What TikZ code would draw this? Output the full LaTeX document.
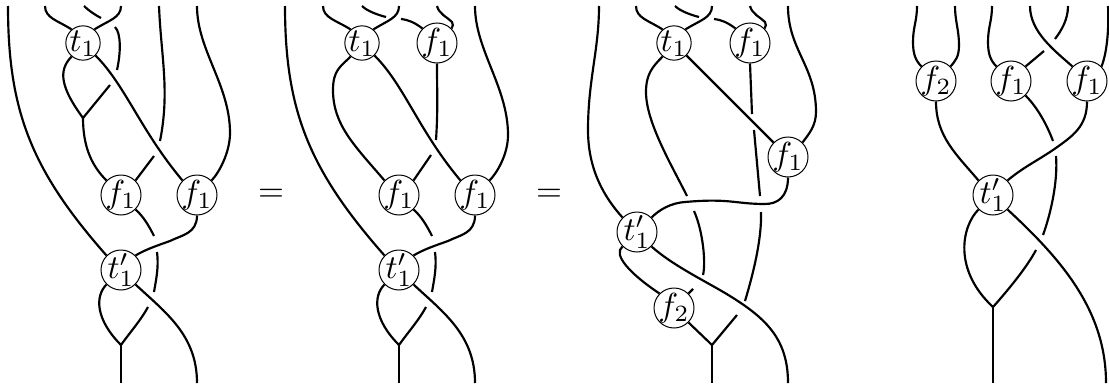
\documentclass[tikz,border=0pt]{standalone}
\usepackage{amsmath}
\newcommand{\vlab}[1]{\makebox[0pt]{\raisebox{-2.5pt}[0pt][0pt]{$#1$}}}

\begin{document}
\begin{tikzpicture}[x=0.3pt, y=-0.3pt,
vert/.style={circle, draw, inner sep=0pt, minimum size=12pt, line width=0.3pt},
vsmall/.style={vert, minimum size=10.3pt},
strand/.style={line width=0.65pt},
]
 \useasboundingbox (0,0) rectangle (1109,385);

 % first braid
 \node[vsmall] (ta) at (83,43) {\vlab{t_1}};
 \node[vert] (fa) at (121,195) {\vlab{f_1}};
 \node[vert] (ga) at (197,195) {\vlab{f_1}};
 \node[vert] (pa) at (121,270) {\vlab{t'_1}};
 \foreach \n/\x/\y in {a1/8/6, a2/45/6, a3/84/6, a4/121/6, a5/159/6, a6/197/6,
   a7/101/18, a8/115/27, a9/117/70, a10/110/85, ja/83/118, a11/160/141, a12/154/156,
   a13/154/236, a14/157/252, a15/154/292, a16/148/307, ka/121/345, a17/121/383, a18/197/383}
   \coordinate (\n) at (\x,\y);
 \begin{scope}[strand]
 \draw (a1) .. controls +(0,105) and +(-75,-85) .. (pa.135);
 \draw (a2) .. controls +(0,12) and +(-14,-9) .. (ta.130);
 \draw (a4) .. controls +(0,12) and +(14,-9) .. (ta.50);
 \draw (a3) .. controls +(4,4) and +(-6,-3) .. (a7);
 \draw (a8) .. controls +(6,6) and +(4,-18) .. (a9);
 \draw (a10) -- (ja);
 \draw (ta.-130) .. controls +(-14,14) and +(-22,-30) .. (ja);
 \draw (ja) .. controls +(0,30) and +(-14,-14) .. (fa.135);
 \draw (ta.-45) .. controls +(30,30) and +(-42,-50) .. (ga.135);
 \draw (a5) .. controls +(2,50) and +(10,-50) .. (a11);
 \draw (a12) -- (fa.45);
 \draw (a6) .. controls +(0,44) and +(0,-48) .. (230,133) .. controls +(0,20) and +(7,-7) .. (ga.45);
 \draw (fa.-45) .. controls +(8,7) and +(-5,-10) .. (a13);
 \draw (a14) .. controls +(2,15) and +(2,-12) .. (a15);
 \draw (a16) .. controls +(-7,13) and +(10,-14) .. (ka);
 \draw (ga.south) .. controls +(0,18) and +(12,-6) .. (170,241) .. controls +(-14,5) and +(10,-6) .. (pa.45);
 \draw (pa.-135) .. controls +(-12,12) and +(-25,-25) .. (ka);
 \draw (pa.-45) .. controls +(30,28) and +(0,-48) .. (a18);
 \draw (ka) -- (a17);
 \end{scope}

 \node (eqa) at (271,195) {$=$};

 % second braid
 \node[vsmall] (tb) at (362,43) {\vlab{t_1}};
 \node[vert] (hb) at (437,43) {\vlab{f_1}};
 \node[vert] (fb) at (399,195) {\vlab{f_1}};
 \node[vert] (gb) at (475,195) {\vlab{f_1}};
 \node[vert] (pb) at (399,270) {\vlab{t'_1}};
 \foreach \n/\x/\y in {b1/285/6, b2/323/6, b3/362/6, b4/399/6, b5/437/6, b6/475/6,
   b7/386/17, b8/401/19, b11/436/140, b12/431/155,
   b13/432/236, b14/435/252, b15/432/292, b16/426/307, kb/399/345, b17/399/383, b18/475/383}
   \coordinate (\n) at (\x,\y);
 \begin{scope}[strand]
 \draw (b1) .. controls +(0,105) and +(-75,-85) .. (pb.135);
 \draw (b2) .. controls +(0,12) and +(-14,-9) .. (tb.130);
 \draw (b4) .. controls +(0,12) and +(14,-9) .. (tb.50);
 \draw (b3) .. controls +(5,5) and +(-8,-2) .. (b7);
 \draw (b8) .. controls +(8,1) and +(-8,-6) .. (hb.135);
 \draw (b5) .. controls +(2,8) and +(-5,-5) .. (452,22) .. controls +(2,2) and +(1,-2) .. (hb.45);
 \draw (tb.-130) .. controls +(-10,10) and +(0,-20) .. (333,90) .. controls +(0,35) and +(-30,-35) .. (fb.135);
 \draw (tb.-45) .. controls +(30,30) and +(-42,-50) .. (gb.135);
 \draw (hb.south) .. controls +(0,30) and +(2,-30) .. (b11);
 \draw (b12) -- (fb.45);
 \draw (b6) .. controls +(0,44) and +(0,-48) .. (508,135) .. controls +(0,20) and +(7,-7) .. (gb.45);
 \draw (fb.-45) .. controls +(8,7) and +(-5,-10) .. (b13);
 \draw (b14) .. controls +(2,15) and +(2,-12) .. (b15);
 \draw (b16) .. controls +(-7,13) and +(10,-14) .. (kb);
 \draw (gb.south) .. controls +(0,18) and +(12,-6) .. (448,241) .. controls +(-14,5) and +(10,-6) .. (pb.45);
 \draw (pb.-135) .. controls +(-12,12) and +(-25,-25) .. (kb);
 \draw (pb.-45) .. controls +(30,28) and +(0,-48) .. (b18);
 \draw (kb) -- (b17);
 \end{scope}

 \node (eqb) at (549,195) {$=$};

 % third braid
 \node[vsmall] (tc) at (674,43) {\vlab{t_1}};
 \node[vert] (hc) at (750,43) {\vlab{f_1}};
 \node[vert] (gc) at (788,157) {\vlab{f_1}};
 \node[vert] (pc) at (637,232) {\vlab{t'_1}};
 \node[vert] (dc) at (674,308) {\vlab{f_2}};
 \foreach \n/\x/\y in {c1/599/6, c2/636/6, c3/675/6, c4/712/6, c5/750/6, c6/788/6,
   c7/699/17, c8/714/19, c9/752/114, c10/754/130, c11/760/196, c12/761/212, c13/745/301, c14/737/315,
   c15/687/196, c16/694/211, c17/703/275, c18/693/289, kc/712/345, c19/712/383, c20/788/383}
   \coordinate (\n) at (\x,\y);
 \begin{scope}[strand]
 \draw (c1) .. controls +(0,44) and +(0,-50) .. (588,130) .. controls +(0,40) and +(-18,-20) .. (pc.135);
 \draw (c2) .. controls +(0,12) and +(-14,-9) .. (tc.130);
 \draw (c4) .. controls +(0,12) and +(14,-9) .. (tc.50);
 \draw (c3) .. controls +(5,5) and +(-8,-2) .. (c7);
 \draw (c8) .. controls +(8,1) and +(-8,-6) .. (hc.135);
 \draw (c5) .. controls +(2,8) and +(-5,-5) .. (765,22) .. controls +(2,2) and +(1,-2) .. (hc.45);
 \draw (tc.-130) .. controls +(-10,10) and +(0,-18) .. (646,92) .. controls +(0,30) and +(-16,-32) .. (c15);
 \draw (tc.-45) -- (gc.135);
 \draw (hc.south) -- (c9);
 \draw (c10) -- (c11);
 \draw (c12) .. controls +(1,30) and +(6,-20) .. (c13);
 \draw (c14) -- (kc);
 \draw (c6) .. controls +(0,44) and +(0,-46) .. (816,112) .. controls +(0,14) and +(6,-8) .. (gc.45);
 \draw (gc.south) .. controls +(0,20) and +(12,0) .. (765,204) .. controls +(-30,0) and +(45,-4) .. (685,202)
   .. controls +(-14,1) and +(8,-8) .. (pc.45);
 \draw (c16) .. controls +(9,20) and +(3,-12) .. (c17);
 \draw (c18) -- (dc.45);
 \draw (pc.-45) .. controls +(20,18) and +(-22,-13) .. (725,293) .. controls +(40,24) and +(0,-45) .. (c20);
 \draw (pc.-135) .. controls +(-10,8) and +(-30,-20) .. (dc.135);
 \draw (dc.-45) -- (kc);
 \draw (kc) -- (c19);
 \end{scope}

 % fourth braid
 \node[vert] (dd) at (936,81) {\vlab{f_2}};
 \node[vert] (fd) at (1011,81) {\vlab{f_1}};
 \node[vert] (gd) at (1087,81) {\vlab{f_1}};
 \node[vert] (pd) at (993,195) {\vlab{t'_1}};
 \foreach \n/\x/\y in {d1/917/6, d2/955/6, d3/992/6, d4/1030/6, d5/1068/6, d6/1108/6,
   d7/1044/51, d8/1055/39, d9/1053/141, d10/1056/156, d11/1043/235, d12/1036/250,
   kd/993/307, d13/993/383, d14/1106/383}
   \coordinate (\n) at (\x,\y);
 \begin{scope}[strand]
 \draw (d1) .. controls +(0,15) and +(0,-15) .. (913,42) .. controls +(0,12) and +(-6,-6) .. (dd.135);
 \draw (d2) .. controls +(0,15) and +(0,-15) .. (959,45) .. controls +(0,12) and +(5,-6) .. (dd.45);
 \draw (d3) .. controls +(0,15) and +(0,-15) .. (988,42) .. controls +(0,12) and +(-6,-6) .. (fd.135);
 \draw (fd.45) -- (d7);
 \draw (d8) .. controls +(6,-8) and +(0,14) .. (d5);
 \draw (d4) .. controls +(0,26) and +(-18,-16) .. (gd.135);
 \draw (d6) .. controls +(1,20) and +(6,-15) .. (gd.45);
 \draw (dd.south) .. controls +(0,35) and +(-22,-26) .. (pd.135);
 \draw (fd.-45) .. controls +(12,12) and +(-6,-16) .. (d9);
 \draw (gd.south) .. controls +(0,25) and +(20,-14) .. (1053,150) .. controls +(-18,12) and +(14,-12) .. (pd.45);
 \draw (d10) .. controls +(2,25) and +(8,-22) .. (d11);
 \draw (d12) .. controls +(-9,17) and +(16,-18) .. (kd);
 \draw (pd.-135) .. controls +(-17,17) and +(-40,-37) .. (kd);
 \draw (pd.-45) .. controls +(53,49) and +(0,-73) .. (d14);
 \draw (kd) -- (d13);
 \end{scope}
\end{tikzpicture}
\end{document}
